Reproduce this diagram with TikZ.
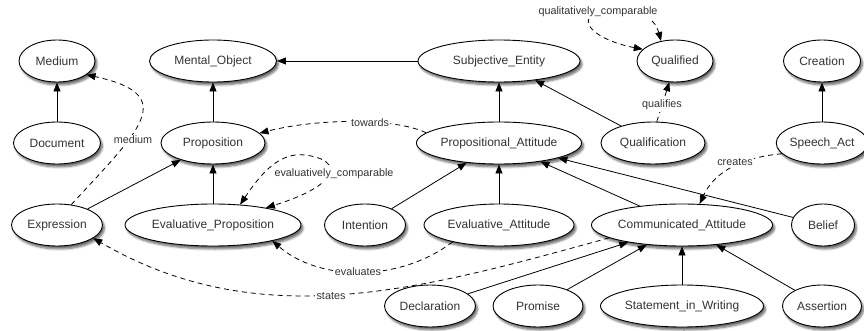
\documentclass[tikz,border=0pt]{standalone}
\usepackage{fontspec}
\setmainfont{Liberation Sans}
\usetikzlibrary{shapes.geometric,arrows.meta,shadows.blur}

\begin{document}
\begin{tikzpicture}[x=1pt,y=-1pt,>={Triangle[length=9pt,width=7pt]},
  cls/.style={ellipse,draw,line width=0.9pt,fill=white,inner sep=0pt,minimum height=42pt,text=black!80,font=\fontsize{12}{14}\selectfont,blur shadow={shadow xshift=2pt,shadow yshift=-3pt,shadow blur steps=6,shadow opacity=60}},
  isa/.style={->,line width=0.8pt},
  rel/.style={->,line width=0.8pt,dash pattern=on 5pt off 4pt},
  lbl/.style={fill=white,inner sep=1.5pt,text=black!80,font=\fontsize{10.8}{12}\selectfont}]
\useasboundingbox (0,0) rectangle (864,331);
\node[cls,minimum width=76pt] (medium) at (57,61) {Medium};
\node[cls,minimum width=127pt] (mentalobj) at (213,61) {Mental\_Object};
\node[cls,minimum width=162pt] (subjent) at (499,61) {Subjective\_Entity};
\node[cls,minimum width=76pt] (qualified) at (675,61) {Qualified};
\node[cls,minimum width=77pt] (creation) at (822,61) {Creation};
\node[cls,minimum width=87pt] (document) at (57,143) {Document};
\node[cls,minimum width=104pt] (proposition) at (213,143) {Proposition};
\node[cls,minimum width=162pt] (propatt) at (499,143) {Propositional\_Attitude};
\node[cls,minimum width=104pt] (qualification) at (653,143) {Qualification};
\node[cls,minimum width=88pt] (speechact) at (822,143) {Speech\_Act};
\node[cls,minimum width=91pt] (expression) at (57,225) {Expression};
\node[cls,minimum width=176pt] (evalprop) at (213,225) {Evaluative\_Proposition};
\node[cls,minimum width=81pt] (intention) at (365,225) {Intention};
\node[cls,minimum width=150pt] (evalatt) at (499,225) {Evaluative\_Attitude};
\node[cls,minimum width=178pt] (commatt) at (682,225) {Communicated\_Attitude};
\node[cls,minimum width=63pt] (belief) at (823,225) {Belief};
\node[cls,minimum width=91pt] (declaration) at (430,306) {Declaration};
\node[cls,minimum width=90pt] (promise) at (538,306) {Promise};
\node[cls,minimum width=163pt] (statement) at (682,306) {Statement\_in\_Writing};
\node[cls,minimum width=79pt] (assertion) at (822,306) {Assertion};

\draw[isa] (document) -- (medium);
\draw[isa] (proposition) -- (mentalobj);
\draw[isa] (subjent) -- (mentalobj);
\draw[isa] (propatt) -- (subjent);
\draw[isa] (qualification) -- (subjent);
\draw[isa] (speechact) -- (creation);
\draw[isa] (expression) -- (proposition);
\draw[isa] (evalprop) -- (proposition);
\draw[isa] (intention) -- (propatt);
\draw[isa] (evalatt) -- (propatt);
\draw[isa] (commatt) -- (propatt);
\draw[isa] (belief) -- (propatt);
\draw[isa] (declaration) -- (commatt);
\draw[isa] (promise) -- (commatt);
\draw[isa] (statement) -- (commatt);
\draw[isa] (assertion) -- (commatt);

\draw[rel] (expression.55) .. controls (140,130) and (180,95) .. (medium.-25);
\draw[rel] (propatt.172) .. controls (395,118) and (320,118) .. (proposition.12);
\draw[rel,<->] (evalprop.37) .. controls (262,172) and (280,152) .. (305,155) .. controls (345,160) and (340,185) .. (evalprop.18);
\draw[rel] (evalatt.200) .. controls (400,282) and (320,282) .. (evalprop.-15);
\draw[rel] (commatt.190) .. controls (420,290) and (260,335) .. (expression.-20);
\draw[rel] (speechact.195) .. controls (745,157) and (715,170) .. (commatt.50);
\draw[rel] (qualification.80) -- (qualified.-105);
\draw[rel,<->] (qualified.160) .. controls (595,40) and (575,20) .. (598,12) .. controls (640,8) and (655,18) .. (qualified.125);

\node[lbl] (lmedium) at (133,140) {medium};
\node[lbl] (ltowards) at (370,123) {towards};
\node[lbl] (levalcomp) at (334,174) {evaluatively\_comparable};
\node[lbl] (levaluates) at (358,272) {evaluates};
\node[lbl] (lstates) at (331,296) {states};
\node[lbl] (lcreates) at (735,162) {creates};
\node[lbl] (lqualifies) at (662,105) {qualifies};
\node[lbl] (lqualcomp) at (598,12) {qualitatively\_comparable};
\end{tikzpicture}
\end{document}
